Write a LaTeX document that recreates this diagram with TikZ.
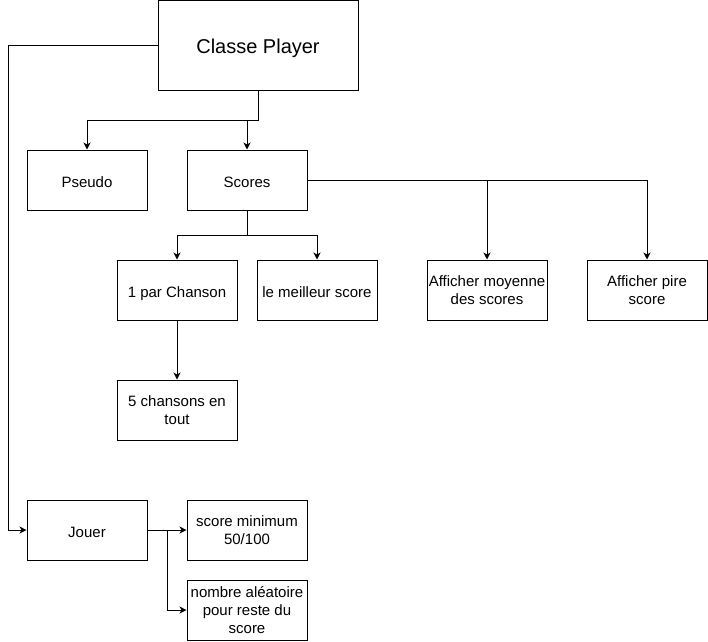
\documentclass[tikz,border=0pt]{standalone}
\usepackage{fontspec}
\setmainfont{Liberation Sans}
\usetikzlibrary{arrows.meta}
\begin{document}
\begin{tikzpicture}[x=1pt,y=-1pt,
  box/.style={draw, line width=1pt, minimum width=120pt, minimum height=60pt, align=center, inner sep=0pt, font=\fontsize{15}{18}\selectfont},
  oneline/.style={text height=14pt, text depth=0pt},
  arr/.style={-{Stealth[length=7pt,width=7pt,inset=2pt]}, line width=1pt}]
\useasboundingbox (0,0) rectangle (708,641);
\node[box, minimum width=200pt, minimum height=90pt, font=\fontsize{20}{24}\selectfont, text height=16pt, text depth=0pt] (cp) at (258,45) {Classe Player};
\node[box, oneline] (ps) at (87,180) {Pseudo};
\node[box, oneline] (sc) at (247,180) {Scores};
\node[box, oneline] (pc) at (177,290) {1 par Chanson};
\node[box, oneline] (ms) at (317,290) {le meilleur score};
\node[box] (am) at (487,290) {Afficher moyenne\\des scores};
\node[box] (ap) at (647,290) {Afficher pire\\score};
\node[box] (ch) at (177,410) {5 chansons en\\tout};
\node[box, oneline] (jo) at (87,530) {Jouer};
\node[box] (sm) at (247,530) {score minimum\\50/100};
\node[box] (na) at (247,610) {nombre aléatoire\\pour reste du\\score};
\coordinate (lc) at (8,45);
\draw[arr] (cp.south) -- ++(0,30) -| (ps.north);
\draw[arr] (cp.south) -- ++(0,30) -| (sc.north);
\draw[arr] (cp.west) -- (lc) |- (jo.west);
\draw[arr] (sc.south) -- ++(0,25) -| (pc.north);
\draw[arr] (sc.south) -- ++(0,25) -| (ms.north);
\draw[arr] (sc.east) -| (am.north);
\draw[arr] (sc.east) -| (ap.north);
\draw[arr] (pc) -- (ch);
\draw[arr] (jo) -- (sm);
\draw[arr] (jo.east) -- ++(20,0) |- (na.west);
\end{tikzpicture}
\end{document}
